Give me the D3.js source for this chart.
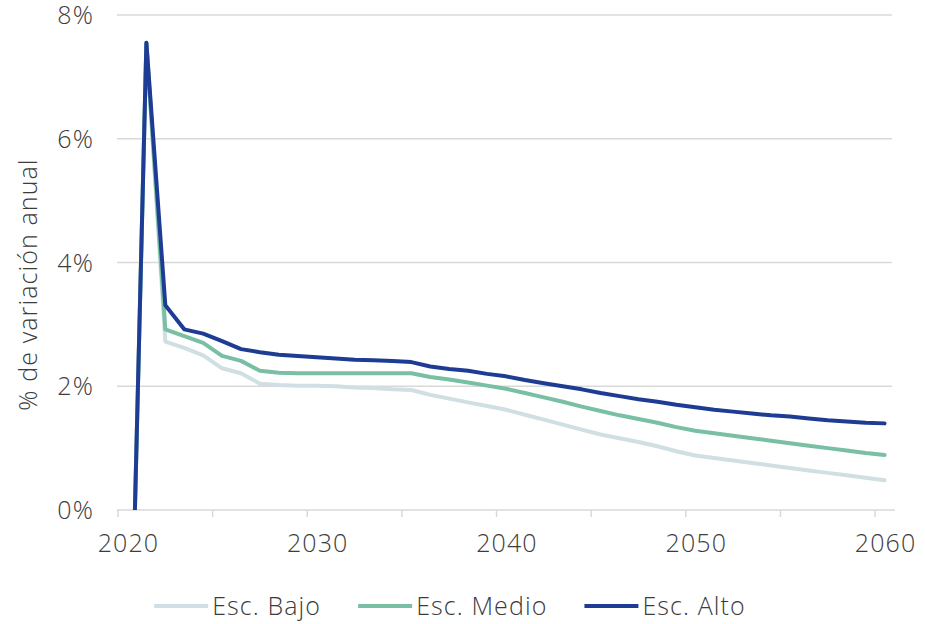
<!DOCTYPE html>
<html>
<head>
<meta charset="utf-8">
<script src="https://cdn.jsdelivr.net/npm/d3@7"></script>
<style>
  html, body { margin: 0; padding: 0; background: #fff; }
  svg text { font-family: "Open Sans", "Noto Sans", sans-serif; font-weight: 300; fill: #3c3c3c; letter-spacing: 1.1px; }
</style>
</head>
<body>
<svg id="chart" width="925" height="624"></svg>
<script>
// Annual years shown on the category axis
const years = d3.range(2020, 2061);

// Annual % change per scenario, 2020–2060
const escBajo = [-4.9, 7.55, 2.72, 2.62, 2.50, 2.29, 2.21, 2.04, 2.02, 2.01,
  2.01, 2.00, 1.98, 1.97, 1.95, 1.94, 1.86, 1.80, 1.74, 1.68,
  1.62, 1.54, 1.46, 1.38, 1.30, 1.22, 1.16, 1.10, 1.03, 0.95,
  0.88, 0.84, 0.80, 0.76, 0.72, 0.68, 0.64, 0.60, 0.56, 0.52, 0.48];
const escMedio = [-4.9, 7.55, 2.92, 2.81, 2.70, 2.49, 2.41, 2.25, 2.22, 2.21,
  2.21, 2.21, 2.21, 2.21, 2.21, 2.21, 2.15, 2.11, 2.06, 2.01,
  1.96, 1.89, 1.82, 1.75, 1.67, 1.60, 1.53, 1.47, 1.41, 1.34,
  1.28, 1.24, 1.20, 1.16, 1.12, 1.08, 1.04, 1.00, 0.96, 0.92, 0.89];
const escAlto = [-4.9, 7.55, 3.31, 2.92, 2.85, 2.73, 2.60, 2.55, 2.51, 2.49,
  2.47, 2.45, 2.43, 2.42, 2.41, 2.39, 2.32, 2.28, 2.25, 2.20,
  2.16, 2.10, 2.05, 2.00, 1.95, 1.89, 1.84, 1.79, 1.75, 1.70,
  1.66, 1.62, 1.59, 1.56, 1.53, 1.51, 1.48, 1.45, 1.43, 1.41, 1.40];

const seriesNames = ["Esc. Bajo", "Esc. Medio", "Esc. Alto"];
const seriesColors = ["#cfdfe3", "#78bfa3", "#1e3c94"];
const yTicks = [0, 2, 4, 6, 8];
const xLabelYears = [2020, 2030, 2040, 2050, 2060];
const xTickYears = [2020, 2025, 2030, 2035, 2040, 2045, 2050, 2055, 2060];

const svg = d3.select("#chart");
const plotL = 118, plotR = 894, plotT = 15, plotB = 510;

const x = d3.scaleBand().domain(years).range([plotL, plotR]).padding(0);
const y = d3.scaleLinear().domain([0, 8]).range([plotB, plotT]);
const cx = yr => x(yr) + x.bandwidth() / 2;

// Horizontal gridlines
svg.append("g")
  .selectAll("line")
  .data(yTicks.filter(d => d > 0))
  .join("line")
  .attr("x1", plotL - 1).attr("x2", plotR - 2)
  .attr("y1", d => y(d)).attr("y2", d => y(d))
  .attr("stroke", "#d9d9d9").attr("stroke-width", 1.5);

// Y tick labels
svg.append("g")
  .selectAll("text")
  .data(yTicks)
  .join("text")
  .attr("x", 94).attr("y", d => y(d))
  .attr("dy", "0.36em")
  .attr("text-anchor", "end")
  .style("font-size", "25px")
  .text(d => d + "%");

// Y axis title
svg.append("text")
  .attr("transform", "translate(37," + ((plotT + plotB) / 2 + 22) + ") rotate(-90)")
  .attr("text-anchor", "middle")
  .style("font-size", "25px")
  .text("% de variación anual");

// X axis line and ticks at category boundaries
svg.append("line")
  .attr("x1", plotL - 1).attr("x2", plotR + 1)
  .attr("y1", plotB).attr("y2", plotB)
  .attr("stroke", "#d9d9d9").attr("stroke-width", 1.5);
svg.append("g")
  .selectAll("line")
  .data(xTickYears)
  .join("line")
  .attr("x1", d => x(d)).attr("x2", d => x(d))
  .attr("y1", plotB).attr("y2", plotB + 7)
  .attr("stroke", "#d9d9d9").attr("stroke-width", 1.5);

// X labels centered on their category
svg.append("g")
  .selectAll("text")
  .data(xLabelYears)
  .join("text")
  .attr("x", d => cx(d) + 1).attr("y", 543)
  .attr("dy", "0.35em")
  .attr("text-anchor", "middle")
  .style("font-size", "25px")
  .text(d => d);

// Lines, clipped at the 0% baseline
svg.append("clipPath").attr("id", "plotClip")
  .append("rect")
  .attr("x", plotL - 5).attr("y", 0)
  .attr("width", plotR - plotL + 10).attr("height", plotB);

const line = d3.line()
  .x((d, i) => cx(years[i]))
  .y(d => y(d));

const allSeries = [escBajo, escMedio, escAlto];
svg.append("g").attr("clip-path", "url(#plotClip)")
  .selectAll("path")
  .data(allSeries)
  .join("path")
  .attr("d", d => line(d))
  .attr("fill", "none")
  .attr("stroke", (d, i) => seriesColors[i])
  .attr("stroke-width", 4)
  .attr("stroke-linejoin", "round")
  .attr("stroke-linecap", "round");

// Legend
const legend = svg.append("g");
const items = legend.selectAll("g")
  .data(seriesNames)
  .join("g");
items.append("line")
  .attr("x1", 0).attr("x2", 54)
  .attr("y1", 0).attr("y2", 0)
  .attr("stroke", (d, i) => seriesColors[i])
  .attr("stroke-width", 4);
items.append("text")
  .attr("x", 58).attr("y", 0).attr("dy", "0.35em")
  .style("font-size", "25px")
  .text(d => d);

let pos = 0;
const gap = 37;
const widths = [];
items.each(function () {
  const w = 58 + d3.select(this).select("text").node().getComputedTextLength();
  widths.push(w);
});
const total = d3.sum(widths) + gap * (widths.length - 1);
const start = 450 - total / 2;
items.attr("transform", (d, i) => {
  const tx = start + pos;
  pos += widths[i] + gap;
  return "translate(" + tx + ",606)";
});
</script>
</body>
</html>
